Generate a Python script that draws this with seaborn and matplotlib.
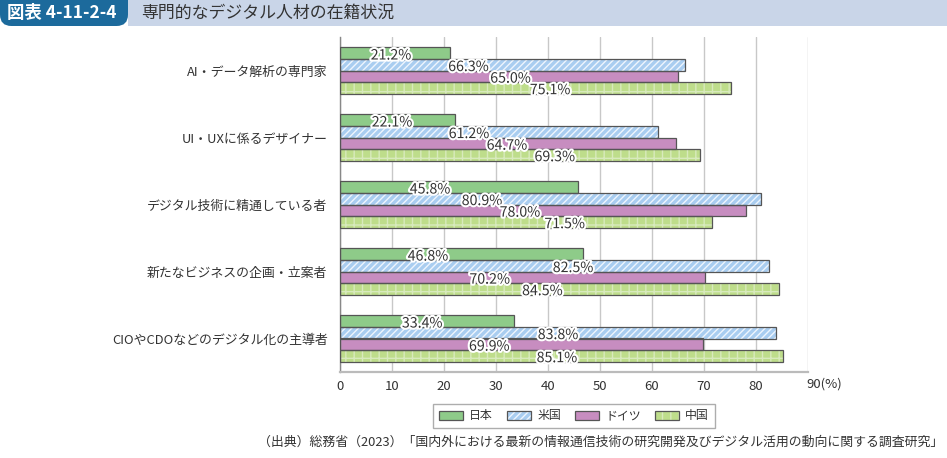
import matplotlib
matplotlib.use("Agg")
import matplotlib.pyplot as plt
import matplotlib.patheffects as pe
from matplotlib.patches import Rectangle, FancyBboxPatch
import seaborn as sns
import pandas as pd

# データ
categories = ["AI・データ解析の専門家", "UI・UXに係るデザイナー", "デジタル技術に精通している者",
              "新たなビジネスの企画・立案者", "CIOやCDOなどのデジタル化の主導者"]
countries = ["日本", "米国", "ドイツ", "中国"]
japan = [21.2, 22.1, 45.8, 46.8, 33.4]
usa = [66.3, 61.2, 80.9, 82.5, 83.8]
germany = [65.0, 64.7, 78.0, 70.2, 69.9]
china = [75.1, 69.3, 71.5, 84.5, 85.1]
xticks = [0, 10, 20, 30, 40, 50, 60, 70, 80, 90]
xticklabels = ["0", "10", "20", "30", "40", "50", "60", "70", "80", "90(%)"]

df = pd.DataFrame({
    "category": categories * 4,
    "country": sum([[c] * 5 for c in countries], []),
    "value": japan + usa + germany + china,
})

sns.set_style("white")
plt.rcParams['font.family'] = ['Noto Sans CJK JP', 'DejaVu Sans']
plt.rcParams['hatch.linewidth'] = 1.0

colors = {"日本": "#8ecb89", "米国": "#a9cdf0", "ドイツ": "#c78dc0", "中国": "#bedd8b"}
hatches = {"日本": "", "米国": "/////", "ドイツ": "", "中国": "||-"}
hatch_col = {"米国": "#eef5fd", "中国": "#d8eabd"}
edge = "#555555"

fig = plt.figure(figsize=(9.47, 4.58), dpi=100)
ax = fig.add_axes([340 / 947, 1 - 372 / 458, 468 / 947, 335 / 458])

sns.barplot(data=df, x="value", y="category", hue="country", orient="h",
            palette=colors, width=0.69, saturation=1, ax=ax, legend=False,
            linewidth=0, edgecolor=edge)

# ハッチと枠線
for cont, name in zip(ax.containers, countries):
    for p in cont:
        if hatches[name]:
            p.set_hatch(hatches[name])
            p.set_edgecolor(hatch_col[name])
            p.set_linewidth(0)
        ax.add_patch(Rectangle(p.get_xy(), p.get_width(), p.get_height(),
                               fill=False, edgecolor=edge, linewidth=0.9, zorder=3))

# ラベル（元図の配置を読み取ったもの）
label_at = [[9.8, 10.0, 17.3, 16.9, 15.8],
            [24.7, 24.8, 27.3, 44.8, 41.9],
            [32.8, 32.1, 34.6, 28.8, 28.7],
            [40.4, 41.3, 43.2, 38.9, 41.7]]
for i, cont in enumerate(ax.containers):
    for j, p in enumerate(cont):
        ax.text(label_at[i][j], p.get_y() + p.get_height() / 2 + 0.035,
                f"{p.get_width():.1f}%", ha="center", va="center",
                fontsize=10.2, color="#333333", zorder=5,
                path_effects=[pe.withStroke(linewidth=3, foreground="white")])

ax.set_xlim(0, 90)
ax.set_ylim(4.5, -0.5)
ax.set_xticks(xticks)
ax.set_xticklabels(xticklabels[:-1] + [""])
ax.set_xlabel("")
ax.set_ylabel("")
ax.grid(axis="x", color="#c8c8c8", linewidth=1)
ax.set_axisbelow(True)
ax.tick_params(axis="both", length=0, colors="#333333")
ax.tick_params(axis="x", labelsize=9.5, pad=6)
ax.tick_params(axis="y", labelsize=9.3, pad=9)
for s in ["top", "right"]:
    ax.spines[s].set_visible(False)
ax.spines["left"].set_color("#888888")
ax.spines["left"].set_linewidth(1)
ax.spines["bottom"].set_color("#bbbbbb")
ax.spines["bottom"].set_linewidth(1.6)
# 最後の目盛ラベル（単位付き）
ax.annotate(xticklabels[-1], xy=(xticks[-1], 0), xycoords=ax.get_xaxis_transform(),
            xytext=(-1, -4.3), textcoords="offset points", ha="left", va="top",
            fontsize=9.5, color="#333333")

# 凡例
handles = []
for name in countries:
    if hatches[name]:
        h1 = Rectangle((0, 0), 1, 1, facecolor=colors[name], hatch=hatches[name],
                       edgecolor=hatch_col[name], linewidth=0)
        h2 = Rectangle((0, 0), 1, 1, fill=False, edgecolor=edge, linewidth=0.9)
        handles.append((h1, h2))
    else:
        handles.append(Rectangle((0, 0), 1, 1, facecolor=colors[name], edgecolor=edge, linewidth=0.9))
leg = fig.legend(handles, countries, loc="center", bbox_to_anchor=(574 / 947, 1 - 416 / 458),
                 ncol=4, frameon=True, fancybox=False, fontsize=8.6, handlelength=2.0,
                 handleheight=0.75, columnspacing=1.2, handletextpad=0.5, borderpad=0.5,
                 borderaxespad=0)
leg.get_frame().set_edgecolor("#999999")
leg.get_frame().set_linewidth(1)
for t in leg.get_texts():
    t.set_color("#333333")

# 見出し
fig.patches.append(Rectangle((128 / 947, 1 - 26 / 458), 1, 26 / 458, transform=fig.transFigure,
                             facecolor="#c9d5e8", edgecolor="none", zorder=0))
fig.patches.append(FancyBboxPatch((0, 1 - 26 / 458), 128 / 947, 26 / 458 + 0.05,
                                  boxstyle="round,pad=0,rounding_size=0.012",
                                  transform=fig.transFigure, facecolor="#1c6a9c",
                                  edgecolor="none", zorder=1, mutation_aspect=2.07))
fig.text(7 / 947, 1 - 13 / 458, "図表 4-11-2-4", ha="left", va="center", color="white",
         fontsize=12.5, fontweight="bold")
fig.text(141 / 947, 1 - 13 / 458, "専門的なデジタル人材の在籍状況", ha="left", va="center",
         color="#333333", fontsize=12.2)
fig.text(943 / 947, 1 - 442 / 458,
         "（出典）総務省（2023）「国内外における最新の情報通信技術の研究開発及びデジタル活用の動向に関する調査研究」",
         ha="right", va="center", color="#333333", fontsize=9.3)

fig.savefig("out.png", dpi=100)
